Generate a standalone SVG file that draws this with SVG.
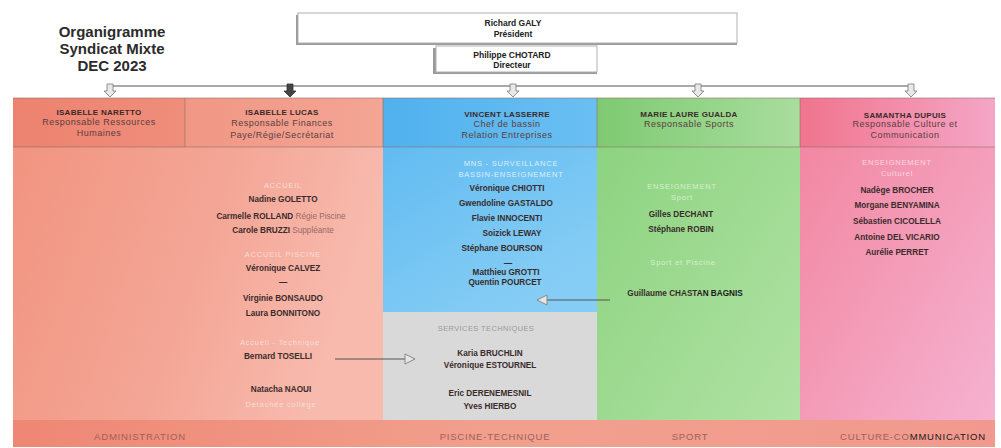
<svg xmlns="http://www.w3.org/2000/svg" width="1001" height="448" viewBox="0 0 1001 448">
<defs>
<linearGradient id="gAdm" x1="0" y1="0" x2="1" y2="0.3"><stop offset="0" stop-color="#F1937F"/><stop offset="0.6" stop-color="#F4A696"/><stop offset="1" stop-color="#F7BAAD"/></linearGradient>
<linearGradient id="gBlue" x1="0" y1="0" x2="0.6" y2="1"><stop offset="0" stop-color="#5AB8F0"/><stop offset="1" stop-color="#86CDF5"/></linearGradient>
<linearGradient id="gGreen" x1="0" y1="0" x2="1" y2="1"><stop offset="0" stop-color="#8AD27D"/><stop offset="1" stop-color="#B0E2A4"/></linearGradient>
<linearGradient id="gPink" x1="0" y1="0" x2="1" y2="1"><stop offset="0" stop-color="#F2849E"/><stop offset="1" stop-color="#F5B2D0"/></linearGradient>
<linearGradient id="gBand" x1="0" y1="0" x2="1" y2="0"><stop offset="0" stop-color="#EE8774"/><stop offset="0.5" stop-color="#F2A08E"/><stop offset="1" stop-color="#F1998E"/></linearGradient>
<linearGradient id="gH1" x1="0" y1="0" x2="1" y2="0"><stop offset="0" stop-color="#ED8270"/><stop offset="1" stop-color="#EF8E7B"/></linearGradient>
<linearGradient id="gH2" x1="0" y1="0" x2="1" y2="0"><stop offset="0" stop-color="#F19785"/><stop offset="1" stop-color="#F4A594"/></linearGradient>
<linearGradient id="gHB" x1="0" y1="0" x2="1" y2="0"><stop offset="0" stop-color="#50B1EE"/><stop offset="1" stop-color="#6ABFF2"/></linearGradient>
<linearGradient id="gHG" x1="0" y1="0" x2="1" y2="0"><stop offset="0" stop-color="#7ECA72"/><stop offset="1" stop-color="#A9DD9E"/></linearGradient>
<linearGradient id="gHP" x1="0" y1="0" x2="1" y2="0"><stop offset="0" stop-color="#F0748E"/><stop offset="1" stop-color="#F5A6C6"/></linearGradient>
<path id="blk" d="M-3,0 H3 V7 H6 L0,13 L-6,7 H-3 Z"/>
<marker id="ah" viewBox="0 0 12 12" refX="11" refY="6" markerWidth="12" markerHeight="12" markerUnits="userSpaceOnUse" orient="auto">
<path d="M1,1 L11,6 L1,11 Z" fill="#E6E6E6" stroke="#888" stroke-width="1"/>
</marker>
</defs>
<style>
text{font-family:"Liberation Sans",Arial,sans-serif;text-anchor:middle}
.t{font-size:15px;font-weight:bold;fill:#2b2b2b}
.bx{fill:#fff;stroke:#B0B0B0;stroke-width:1}
.bs{fill:#9a9a9a}
.tb{font-size:8.5px;font-weight:bold;fill:#222}
.hn{font-size:8px;font-weight:bold;fill:#3a2a2a;letter-spacing:0.3px}
.hd{font-size:9px;fill:#5a4040;letter-spacing:0.5px}
.nm{font-size:8.2px;font-weight:bold;fill:#3a2b2b}
.lw{font-size:7.5px;fill:#F6DDD7;letter-spacing:0.8px}
.lb{font-size:7.5px;fill:#DCEFFC;letter-spacing:0.8px}
.lg{font-size:7.5px;fill:#D6F0CE;letter-spacing:0.8px}
.lp{font-size:7.5px;fill:#FAD8E2;letter-spacing:0.8px}
.ls{font-size:7.5px;fill:#9A9A9A;letter-spacing:0.4px}
.sub{font-weight:normal;fill:#9A6A62}
.bd{font-size:9.5px;fill:#A0605A;letter-spacing:0.8px}
.dk{fill:#1a1a1a}
.ln{stroke:#555;stroke-width:1;fill:none}
.arr{fill:#E8E8E8;stroke:#7a7a7a;stroke-width:0.8}
.arrd{fill:#444;stroke:#333;stroke-width:0.8}
.grid{stroke:#8a6a66;stroke-width:0.8;fill:none;opacity:0.7}
</style>

<g id="title">
<text class="t" x="112" y="37">Organigramme</text>
<text class="t" x="112" y="54">Syndicat Mixte</text>
<text class="t" x="112" y="71">DEC 2023</text>
</g>

<g id="president">
<rect class="bs" x="296" y="15" width="441" height="30"/>
<rect class="bx" x="298" y="13" width="439" height="30"/>
<text class="tb" x="513" y="26">Richard GALY</text>
<text class="tb" x="513" y="37">Président</text>
</g>

<g id="directeur">
<rect class="bs" x="433" y="48" width="164" height="26"/>
<rect class="bx" x="436" y="46" width="161" height="26"/>
<text class="tb" x="512" y="58">Philippe CHOTARD</text>
<text class="tb" x="512" y="68">Directeur</text>
</g>

<g id="col-administration">
<rect x="13" y="98" width="370" height="322" fill="url(#gAdm)"/>
<rect x="13" y="98" width="172" height="49" fill="url(#gH1)"/>
<rect x="185" y="98" width="198" height="49" fill="url(#gH2)"/>
<text class="hn" x="99" y="115">ISABELLE NARETTO</text>
<text class="hd" x="99" y="125">Responsable Ressources</text>
<text class="hd" x="99" y="136">Humaines</text>
<text class="hn" x="282" y="115">ISABELLE LUCAS</text>
<text class="hd" x="282" y="126">Responsable Finances</text>
<text class="hd" x="282" y="138">Paye/Régie/Secrétariat</text>
<text class="lw" x="283" y="188">ACCUEIL</text>
<text class="nm" x="283" y="202">Nadine GOLETTO</text>
<text class="nm" x="281" y="219">Carmelle ROLLAND<tspan class="sub"> Régie Piscine</tspan></text>
<text class="nm" x="283" y="233">Carole BRUZZI<tspan class="sub"> Suppléante</tspan></text>
<text class="lw" x="283" y="257">ACCUEIL PISCINE</text>
<text class="nm" x="283" y="271">Véronique CALVEZ</text>
<text class="nm" x="283" y="285">—</text>
<text class="nm" x="283" y="301">Virginie BONSAUDO</text>
<text class="nm" x="283" y="316">Laura BONNITONO</text>
<text class="lw" x="280" y="345">Accueil - Technique</text>
<text class="nm" x="278" y="359">Bernard TOSELLI</text>
<text class="nm" x="281" y="392">Natacha NAOUI</text>
<text class="lw" x="281" y="407">Détachée collège</text>
</g>

<g id="col-piscine">
<rect x="383" y="98" width="214" height="214" fill="url(#gBlue)"/>
<rect x="383" y="98" width="214" height="49" fill="url(#gHB)"/>
<text class="hn" x="507" y="117">VINCENT LASSERRE</text>
<text class="hd" x="507" y="127">Chef de bassin</text>
<text class="hd" x="507" y="138">Relation Entreprises</text>
<text class="lb" x="511" y="166">MNS - SURVEILLANCE</text>
<text class="lb" x="511" y="177">BASSIN-ENSEIGNEMENT</text>
<text class="nm" x="507" y="191">Véronique CHIOTTI</text>
<text class="nm" x="506" y="206">Gwendoline GASTALDO</text>
<text class="nm" x="507" y="221">Flavie INNOCENTI</text>
<text class="nm" x="512" y="236">Soizick LEWAY</text>
<text class="nm" x="502" y="251">Stéphane BOURSON</text>
<text class="nm" x="508" y="266">—</text>
<text class="nm" x="506" y="275">Matthieu GROTTI</text>
<text class="nm" x="505" y="285">Quentin POURCET</text>
</g>

<g id="col-technique">
<rect x="383" y="312" width="214" height="108" fill="#D9D9D9"/>
<text class="ls" x="486" y="331">SERVICES TECHNIQUES</text>
<text class="nm" x="490" y="356">Karia BRUCHLIN</text>
<text class="nm" x="490" y="368">Véronique ESTOURNEL</text>
<text class="nm" x="490" y="396">Eric DERENEMESNIL</text>
<text class="nm" x="490" y="409">Yves HIERBO</text>
</g>

<g id="col-sport">
<rect x="597" y="98" width="203" height="322" fill="url(#gGreen)"/>
<rect x="597" y="98" width="203" height="49" fill="url(#gHG)"/>
<text class="hn" x="689" y="117">MARIE LAURE GUALDA</text>
<text class="hd" x="689" y="127">Responsable Sports</text>
<text class="lg" x="682" y="189">ENSEIGNEMENT</text>
<text class="lg" x="682" y="200">Sport</text>
<text class="nm" x="681" y="217">Gilles DECHANT</text>
<text class="nm" x="681" y="232">Stéphane ROBIN</text>
<text class="lg" x="683" y="265">Sport et Piscine</text>
<text class="nm" x="685" y="296">Guillaume CHAST<tspan class="dk">AN BAGNIS</tspan></text>
</g>

<g id="col-culture">
<rect x="800" y="98" width="195" height="322" fill="url(#gPink)"/>
<rect x="800" y="98" width="195" height="49" fill="url(#gHP)"/>
<text class="hn" x="905" y="118">SAMANTHA DUPUIS</text>
<text class="hd" x="905" y="127">Responsable Culture et</text>
<text class="hd" x="905" y="138">Communication</text>
<text class="lp" x="897" y="165">ENSEIGNEMENT</text>
<text class="lp" x="897" y="176">Culturel</text>
<text class="nm" x="897" y="193">Nadège BROCHER</text>
<text class="nm" x="897" y="208">Morgane BENYAMINA</text>
<text class="nm" x="897" y="224">Sébastien CICOLELLA</text>
<text class="nm" x="897" y="240">Antoine DEL VICARIO</text>
<text class="nm" x="897" y="255">Aurélie PERRET</text>
</g>

<g id="grid">
<path class="grid" d="M13,98 H995 M13,147 H995 M185,98 V147 M383,98 V147 M597,98 V147 M800,98 V147"/>
</g>

<g id="band">
<rect x="13" y="420" width="982" height="27" fill="url(#gBand)"/>
<text class="bd" x="140" y="440">ADMINISTRATION</text>
<text class="bd" x="495" y="440">PISCINE-TECHNIQUE</text>
<text class="bd" x="690" y="440">SPORT</text>
<text class="bd" x="913" y="440">CULTURE-CO<tspan class="dk">MMUNICATION</tspan></text>
</g>

<g id="connectors">
<path class="ln" d="M110,86 H912"/>
<use href="#blk" class="arr" x="110" y="84"/>
<use href="#blk" class="arrd" x="290" y="84"/>
<use href="#blk" class="arr" x="513" y="84"/>
<use href="#blk" class="arr" x="698" y="84"/>
<use href="#blk" class="arr" x="911" y="84"/>
<path class="ln" d="M610,300 H537" stroke="#666" marker-end="url(#ah)"/>
<path class="ln" d="M335,359 H415" stroke="#666" marker-end="url(#ah)"/>
</g>
</svg>
